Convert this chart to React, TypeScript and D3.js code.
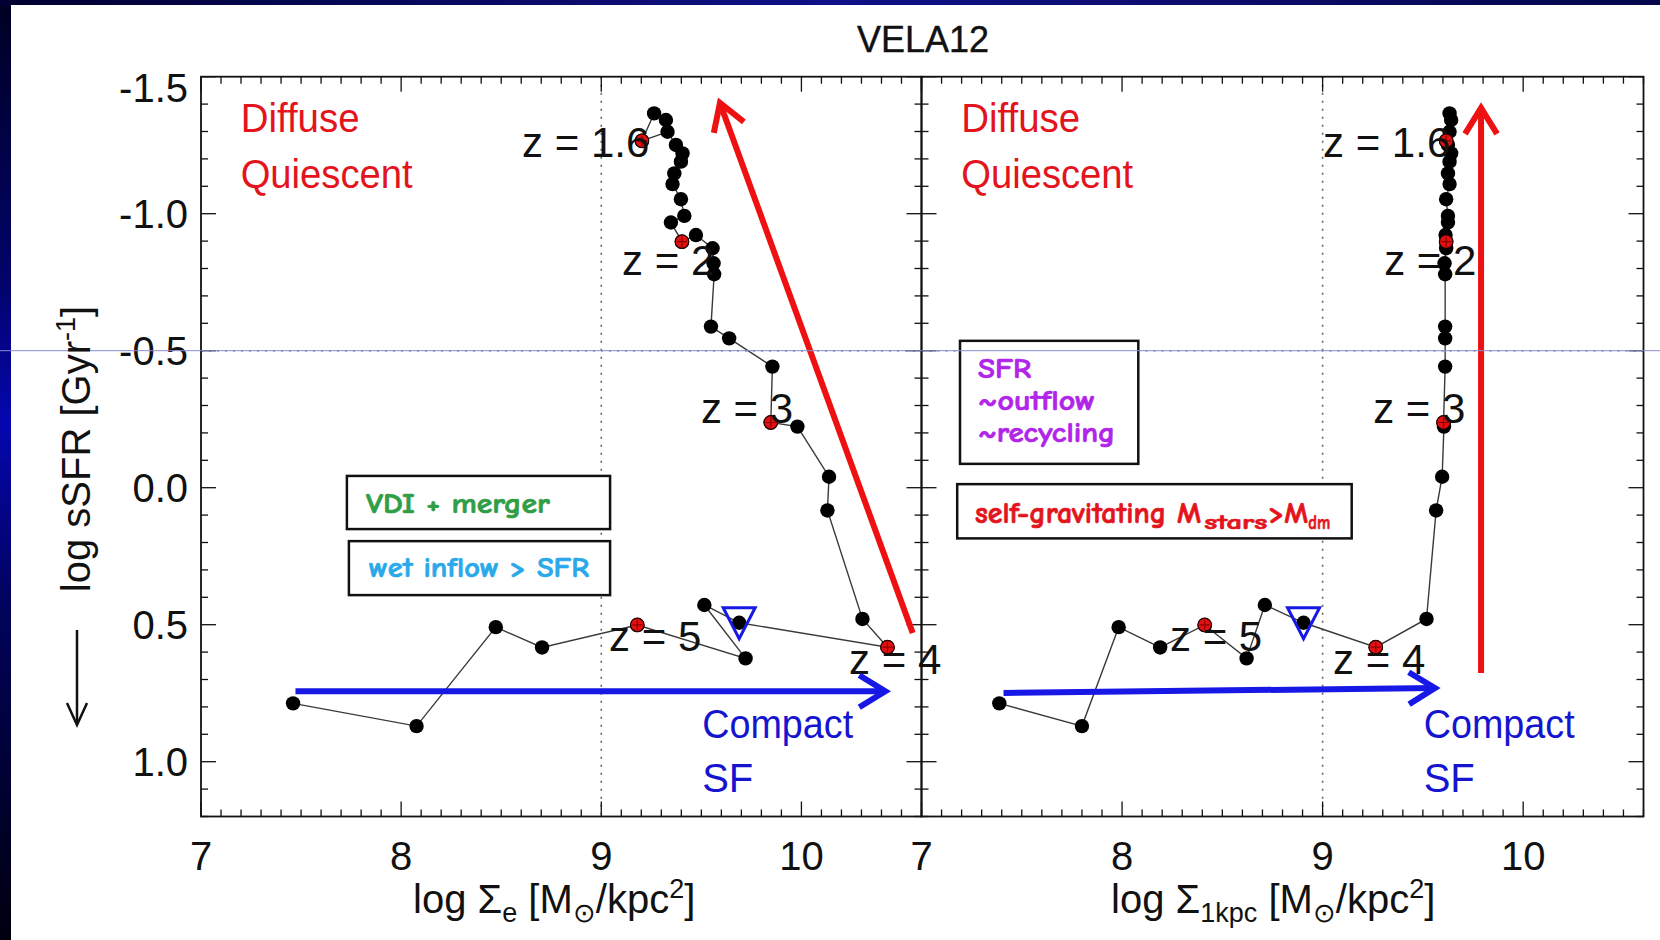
import React from 'react';
import * as d3 from 'd3';

const W = 1660;
const H = 940;

// shared log sSFR track (y), one x-array per panel
const logSSFR = [0.787, 0.870, 0.509, 0.583, 0.501, 0.623, 0.428, 0.493, 0.582, 0.479, 0.083, -0.040, -0.223, -0.238, -0.442, -0.545, -0.588, -0.779, -0.819, -0.874, -0.922, -0.898, -0.968, -0.992, -1.053, -1.108, -1.147, -1.190, -1.220, -1.251, -1.299, -1.266, -1.366, -1.342];
const logSigmaE = [7.460, 8.077, 8.473, 8.704, 9.180, 9.721, 9.515, 9.689, 10.430, 10.305, 10.130, 10.138, 9.980, 9.847, 9.855, 9.639, 9.548, 9.564, 9.561, 9.556, 9.473, 9.403, 9.348, 9.415, 9.398, 9.356, 9.365, 9.398, 9.406, 9.373, 9.331, 9.203, 9.264, 9.323];
const logSigma1kpc = [7.388, 7.800, 7.983, 8.190, 8.412, 8.621, 8.712, 8.905, 9.265, 9.518, 9.566, 9.596, 9.605, 9.603, 9.611, 9.611, 9.611, 9.611, 9.608, 9.616, 9.613, 9.616, 9.625, 9.625, 9.616, 9.633, 9.625, 9.633, 9.641, 9.625, 9.633, 9.616, 9.633, 9.641];
const redIndices = [4, 8, 13, 21, 31];
const triangleIndex = 7;

const xTicks = [7, 8, 9, 10];
const yTicks = [-1.5, -1.0, -0.5, 0.0, 0.5, 1.0];
const yTickLabels = ['-1.5', '-1.0', '-0.5', '0.0', '0.5', '1.0'];
const xDomain = [7, 10.6];
const yDomain = [-1.5, 1.2];

const zLabels = ['z = 5', 'z = 4', 'z = 3', 'z = 2', 'z = 1.6'];
const zLabelAnchors1 = [[9.039, 0.596], [10.238, 0.680], [9.498, -0.236], [9.104, -0.776], [8.604, -1.207]];
const zLabelAnchors2 = [[8.239, 0.596], [9.052, 0.680], [9.252, -0.236], [9.307, -0.776], [9.002, -1.207]];

// arrows: [tailX, tailY, tipX, tipY]
const redArrow1 = [10.556, 0.530, 9.593, -1.404];
const blueArrow1 = [7.472, 0.743, 10.419, 0.743];
const redArrow2 = [9.790, 0.676, 9.790, -1.386];
const blueArrow2 = [7.409, 0.749, 9.560, 0.731];

const panelsX = [[201, 921.5], [921.5, 1643.5]];
const yRange = [76.7, 816.5];

const RED = '#e3141c';
const BLUE = '#1717e6';
const HELV = '"Liberation Sans", Arial, Helvetica, sans-serif';
const COMIC = '"Comic Sans MS", "Comic Neue", "Noto Sans", "DejaVu Sans", sans-serif';

function arrowHead(tail: number[], tip: number[], len: number, half: number) {
  const dx = tip[0] - tail[0];
  const dy = tip[1] - tail[1];
  const L = Math.hypot(dx, dy);
  const ux = dx / L, uy = dy / L;
  const px = -uy, py = ux;
  const bx = tip[0] - ux * len, by = tip[1] - uy * len;
  return `M${bx + px * half},${by + py * half}L${tip[0]},${tip[1]}L${bx - px * half},${by - py * half}`;
}

function Arrow({ a, xs, ys, color, width }: any) {
  const tail = [xs(a[0]), ys(a[1])];
  const tip = [xs(a[2]), ys(a[3])];
  return (
    <g stroke={color} strokeWidth={width} fill="none" strokeLinecap="butt">
      <line x1={tail[0]} y1={tail[1]} x2={tip[0]} y2={tip[1]} />
      <path d={arrowHead(tail, tip, 26, 16)} strokeLinejoin="miter" />
    </g>
  );
}

function Panel({ idx }: { idx: number }) {
  const [x0, x1] = panelsX[idx];
  const xs = d3.scaleLinear().domain(xDomain).range([x0, x1]);
  const ys = d3.scaleLinear().domain(yDomain).range(yRange);
  const xsData = idx === 0 ? logSigmaE : logSigma1kpc;
  const pts = logSSFR.map((v, i) => [xs(xsData[i]), ys(v)]);
  const line = d3.line()(pts as any) || '';
  const top = ys(yDomain[0]);
  const bot = ys(yDomain[1]);
  const xMinor = d3.range(0, 37).map((i) => +(xDomain[0] + i * 0.1).toFixed(2));
  const yMinor = d3.range(0, 28).map((i) => +(yDomain[0] + i * 0.1).toFixed(2));
  const isXMajor = (v: number) => Math.abs(v - Math.round(v)) < 1e-6;
  const isYMajor = (v: number) => Math.abs(v * 2 - Math.round(v * 2)) < 1e-6;
  const zAnch = idx === 0 ? zLabelAnchors1 : zLabelAnchors2;
  const tri = pts[triangleIndex];
  const red = idx === 0 ? redArrow1 : redArrow2;
  const blue = idx === 0 ? blueArrow1 : blueArrow2;

  return (
    <g>
      {/* dotted reference lines */}
      <line x1={xs(9)} x2={xs(9)} y1={top} y2={bot} stroke="#666" strokeWidth={1.6} strokeDasharray="2 6" />
      <line x1={x0} x2={x1} y1={ys(-0.5)} y2={ys(-0.5)} stroke="#666" strokeWidth={1.6} strokeDasharray="2 6" />

      {/* ticks */}
      <g stroke="#111" strokeWidth={1.3}>
        {xMinor.map((v) => {
          const L = isXMajor(v) ? 15 : 7;
          return (
            <g key={'x' + v}>
              <line x1={xs(v)} x2={xs(v)} y1={bot} y2={bot - L} />
              <line x1={xs(v)} x2={xs(v)} y1={top} y2={top + L} />
            </g>
          );
        })}
        {yMinor.map((v) => {
          const L = isYMajor(v) ? 15 : 7;
          return (
            <g key={'y' + v}>
              <line x1={x0} x2={x0 + L} y1={ys(v)} y2={ys(v)} />
              <line x1={x1} x2={x1 - L} y1={ys(v)} y2={ys(v)} />
            </g>
          );
        })}
      </g>

      {/* x tick labels */}
      {xTicks.map((v) => (
        <text key={'xl' + v} x={xs(v)} y={870} textAnchor="middle" fontFamily={HELV} fontSize={40} fill="#111">{v}</text>
      ))}

      {/* track */}
      <path d={line} fill="none" stroke="#3a3a3a" strokeWidth={1.4} />
      {pts.map((p, i) => (
        <circle key={'p' + i} cx={p[0]} cy={p[1]} r={7.2} fill="#000" />
      ))}
      {redIndices.map((i) => (
        <g key={'r' + i}>
          <circle cx={pts[i][0]} cy={pts[i][1]} r={6.8} fill="#e21010" stroke="#200" strokeWidth={1.2} />
          <path d={`M${pts[i][0] - 5},${pts[i][1]}h10M${pts[i][0]},${pts[i][1] - 5}v10`} stroke="#8a0000" strokeWidth={1.2} />
        </g>
      ))}
      <path d={`M${tri[0] - 16},${tri[1] - 15}L${tri[0] + 16},${tri[1] - 15}L${tri[0]},${tri[1] + 16}Z`} fill="none" stroke={BLUE} strokeWidth={3} />

      {/* z labels */}
      {zLabels.map((t, i) => (
        <text key={'z' + i} x={xs(zAnch[i][0])} y={ys(zAnch[i][1])} fontFamily={HELV} fontSize={42} fill="#111">{t}</text>
      ))}

      {/* arrows */}
      <Arrow a={red} xs={xs} ys={ys} color="#ee1111" width={6} />
      <Arrow a={blue} xs={xs} ys={ys} color={BLUE} width={6} />

      {/* region labels */}
      <text x={xs(7.198)} y={ys(-1.298)} fontFamily={HELV} fontSize={40} fill={RED} textLength={119} lengthAdjust="spacingAndGlyphs">Diffuse</text>
      <text x={xs(7.198)} y={ys(-1.094)} fontFamily={HELV} fontSize={40} fill={RED} textLength={172} lengthAdjust="spacingAndGlyphs">Quiescent</text>
      <text x={xs(9.504)} y={ys(0.913)} fontFamily={HELV} fontSize={40} fill="#1515d0" textLength={151} lengthAdjust="spacingAndGlyphs">Compact</text>
      <text x={xs(9.504)} y={ys(1.110)} fontFamily={HELV} fontSize={40} fill="#1515d0">SF</text>

      {/* frame */}
      <rect x={x0} y={top} width={x1 - x0} height={bot - top} fill="none" stroke="#111" strokeWidth={1.8} />
    </g>
  );
}

function BoxText({ xs, ys, box, lines }: any) {
  return (
    <g>
      <rect x={xs(box[0])} y={ys(box[2])} width={xs(box[1]) - xs(box[0])} height={ys(box[3]) - ys(box[2])} fill="#fff" stroke="#111" strokeWidth={2.5} />
      {lines.map((l: any, i: number) => (
        <text key={i} x={xs(l.x)} y={ys(l.y)} fontFamily={COMIC} fontSize={l.size || 29} fontWeight={600} fill={l.color} stroke={l.color} strokeWidth={0.7} textLength={l.w} lengthAdjust="spacingAndGlyphs">{l.t}</text>
      ))}
    </g>
  );
}

export default function App() {
  const ys = d3.scaleLinear().domain(yDomain).range(yRange);
  const xs1 = d3.scaleLinear().domain(xDomain).range(panelsX[0]);
  const xs2 = d3.scaleLinear().domain(xDomain).range(panelsX[1]);
  return (
    <svg width={W} height={H} viewBox={`0 0 ${W} ${H}`} style={{ position: 'absolute', left: 0, top: 0, display: 'block' }}>
      <defs>
        <linearGradient id="leftBand" x1="0" y1="0" x2="0" y2="1">
          <stop offset="0" stopColor="#000022" />
          <stop offset="0.3" stopColor="#03036a" />
          <stop offset="0.45" stopColor="#0606b0" />
          <stop offset="0.65" stopColor="#02025a" />
          <stop offset="1" stopColor="#00000f" />
        </linearGradient>
        <linearGradient id="topBand" x1="0" y1="0" x2="1" y2="0">
          <stop offset="0" stopColor="#000030" />
          <stop offset="0.5" stopColor="#101088" />
          <stop offset="1" stopColor="#06064a" />
        </linearGradient>
      </defs>
      <rect x={0} y={0} width={W} height={H} fill="url(#leftBand)" />
      <rect x={0} y={0} width={W} height={6} fill="url(#topBand)" />
      <rect x={11} y={5} width={W - 11} height={H - 5} fill="#fff" />

      <text x={923} y={52} textAnchor="middle" fontFamily={HELV} fontSize={36} fill="#111" stroke="#111" strokeWidth={0.4}>VELA12</text>

      <Panel idx={0} />
      <Panel idx={1} />

      {/* y tick labels */}
      {yTicks.map((v, i) => (
        <text key={'yl' + v} x={188} y={ys(v) + (i === 0 ? 11 : 0)} dy="0.36em" textAnchor="end" fontFamily={HELV} fontSize={40} fill="#111">{yTickLabels[i]}</text>
      ))}

      {/* annotation boxes */}
      <BoxText xs={xs1} ys={ys} box={[7.729, 9.044, -0.043, 0.151]} lines={[{ t: 'VDI + merger', x: 7.824, y: 0.092, w: 184, color: '#2f9e46' }]} />
      <BoxText xs={xs1} ys={ys} box={[7.739, 9.044, 0.195, 0.392]} lines={[{ t: 'wet inflow > SFR', x: 7.839, y: 0.326, w: 220, color: '#2aa9ea' }]} />
      <BoxText xs={xs2} ys={ys} box={[7.192, 8.081, -0.536, -0.087]} lines={[
        { t: 'SFR', x: 7.282, y: -0.400, w: 53, color: '#b124ea' },
        { t: '~outflow', x: 7.282, y: -0.284, w: 117, color: '#b124ea' },
        { t: '~recycling', x: 7.282, y: -0.168, w: 137, color: '#b124ea' },
      ]} />
      <BoxText xs={xs2} ys={ys} box={[7.178, 9.145, -0.013, 0.185]} lines={[
        { t: 'self-gravitating M', x: 7.267, y: 0.129, w: 226, color: RED, size: 30 },
        { t: 'stars', x: 8.410, y: 0.150, w: 63, color: RED, size: 20 },
        { t: '>M', x: 8.729, y: 0.129, w: 40, color: RED, size: 30 },
        { t: 'dm', x: 8.929, y: 0.150, w: 22, color: RED, size: 20 },
      ]} />

      {/* slide guide line */}
      <line x1={0} x2={W} y1={ys(-0.5)} y2={ys(-0.5)} stroke="#8c8cd2" strokeWidth={1} />

      {/* axis titles */}
      <text x={413} y={913} fontFamily={HELV} fontSize={40} fill="#111">
        log Σ<tspan fontSize={27} dy={9}>e</tspan><tspan dy={-9}> [M</tspan><tspan fontSize={27} dy={9}>⊙</tspan><tspan dy={-9}>/kpc</tspan><tspan fontSize={27} dy={-15}>2</tspan><tspan dy={15}>]</tspan>
      </text>
      <text x={1111} y={913} fontFamily={HELV} fontSize={40} fill="#111">
        log Σ<tspan fontSize={27} dy={9}>1kpc</tspan><tspan dy={-9}> [M</tspan><tspan fontSize={27} dy={9}>⊙</tspan><tspan dy={-9}>/kpc</tspan><tspan fontSize={27} dy={-15}>2</tspan><tspan dy={15}>]</tspan>
      </text>
      <text transform="translate(90,449) rotate(-90)" textAnchor="middle" fontFamily={HELV} fontSize={40} fill="#111">
        log sSFR [Gyr<tspan fontSize={27} dy={-15}>-1</tspan><tspan dy={15}>]</tspan>
      </text>
      <g stroke="#111" strokeWidth={2.5} fill="none">
        <line x1={77} x2={77} y1={630} y2={724} />
        <path d="M67,703L77,725L87,703" />
      </g>
    </svg>
  );
}
